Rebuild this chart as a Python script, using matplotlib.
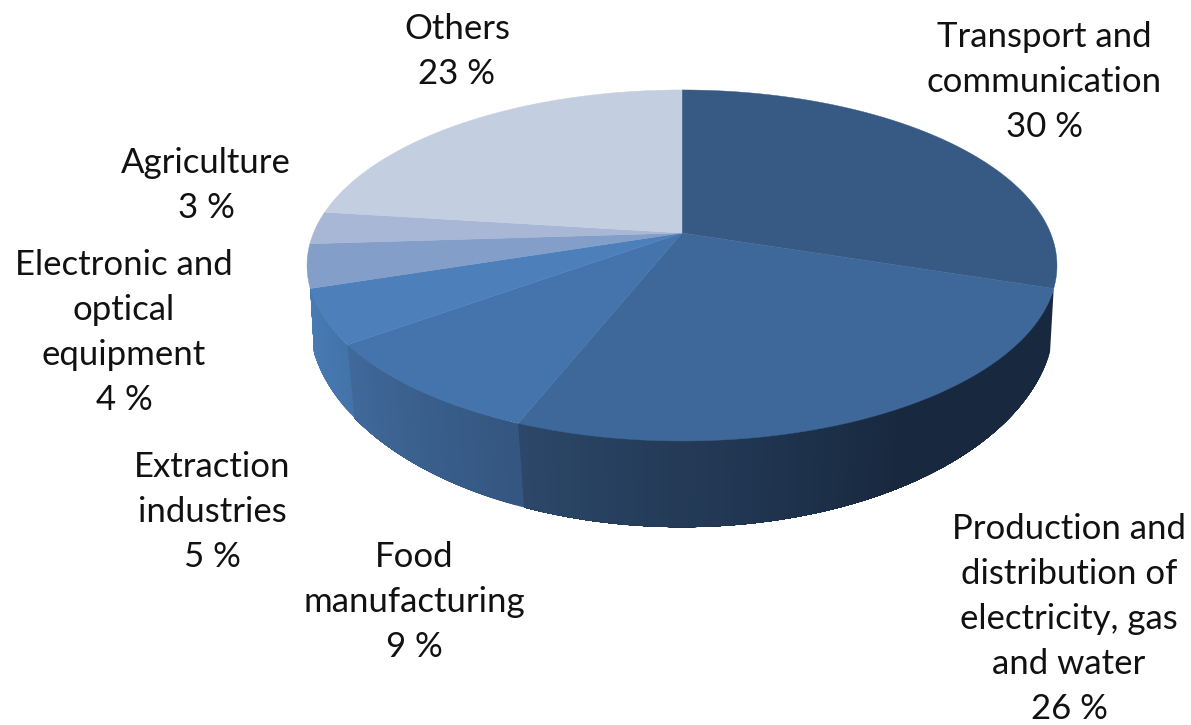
import numpy as np
import matplotlib
matplotlib.use("Agg")
import matplotlib.pyplot as plt
from matplotlib.collections import PolyCollection
from matplotlib.colors import to_rgb

labels = ["Transport and\ncommunication", "Production and\ndistribution of\nelectricity, gas\nand water",
          "Food\nmanufacturing", "Extraction\nindustries", "Electronic and\noptical\nequipment",
          "Agriculture", "Others"]
values = [30, 26, 9, 5, 4, 3, 23]

top_colors = ["#375a85", "#3e6899", "#4574ac", "#4d7fbb", "#829ec9", "#a8b7d5", "#c3cee0"]
# only these slices show a side wall from this viewpoint: start colour, end colour, flat part
side_colors = {1: ("#18293f", "#2c4769", 0.45), 2: ("#345680", "#40699a", 0), 3: ("#4373a9", "#4a7bb4", 0)}
label_pos = [(1044, 82), (1069, 619), (414, 602), (212, 512), (124, 332), (206, 185), (457, 51)]

cx, cy = 682, 233


def top_point(theta):
    # perspective of the top disc, theta clockwise from 12 o'clock
    u, v = np.sin(theta), np.cos(theta)
    w = 1 + 0.185 * v
    return cx + 368.5 * u / w, cy - 169.5 * v / w


def bottom_point(theta):
    u, v = np.sin(theta), np.cos(theta)
    w = 1 + 0.15 * v
    return cx + 369 * u / w, cy + 53 - 205 * v / w


def strip_color(c0, c1, t):
    return (1 - t) * np.array(to_rgb(c0)) + t * np.array(to_rgb(c1))


fig = plt.figure(figsize=(11.91, 7.25), dpi=100)
ax = fig.add_axes([0, 0, 1, 1])
ax.set_xlim(0, 1191)
ax.set_ylim(725, 0)
ax.axis("off")

edges = np.deg2rad(np.cumsum([0] + values) * 3.6)

# side wall first, the top covers what is hidden
for i in side_colors:
    c0, c1, flat = side_colors[i]
    a = np.linspace(edges[i], edges[i + 1], values[i] * 3 + 2)
    strips, strip_cols = [], []
    for j in range(len(a) - 1):
        # each strip runs on to the slice end so no seams show between them
        b = np.linspace(a[j], edges[i + 1], 40)
        tx, ty = top_point(b)
        bx, by = bottom_point(b)
        strips.append(np.column_stack([np.r_[tx, bx[::-1]], np.r_[ty, by[::-1]]]))
        t = j / (len(a) - 2)
        strip_cols.append(strip_color(c0, c1, max(0, (t - flat) / (1 - flat))))
    ax.add_collection(PolyCollection(strips, facecolors=strip_cols, edgecolors="none"))

for i in range(len(values)):
    a = np.linspace(edges[i], edges[i + 1], values[i] * 6 + 2)
    xs, ys = top_point(a)
    ax.fill(np.r_[cx, xs], np.r_[cy, ys], color=top_colors[i], lw=0.3)

for i in range(len(values)):
    ax.text(label_pos[i][0], label_pos[i][1], "{}\n{} %".format(labels[i], values[i]), ha="center", va="center",
            multialignment="center", family="Lato", fontsize=25, linespacing=1.5, color="#111111")

fig.savefig("out.png", dpi=100, facecolor="white")
